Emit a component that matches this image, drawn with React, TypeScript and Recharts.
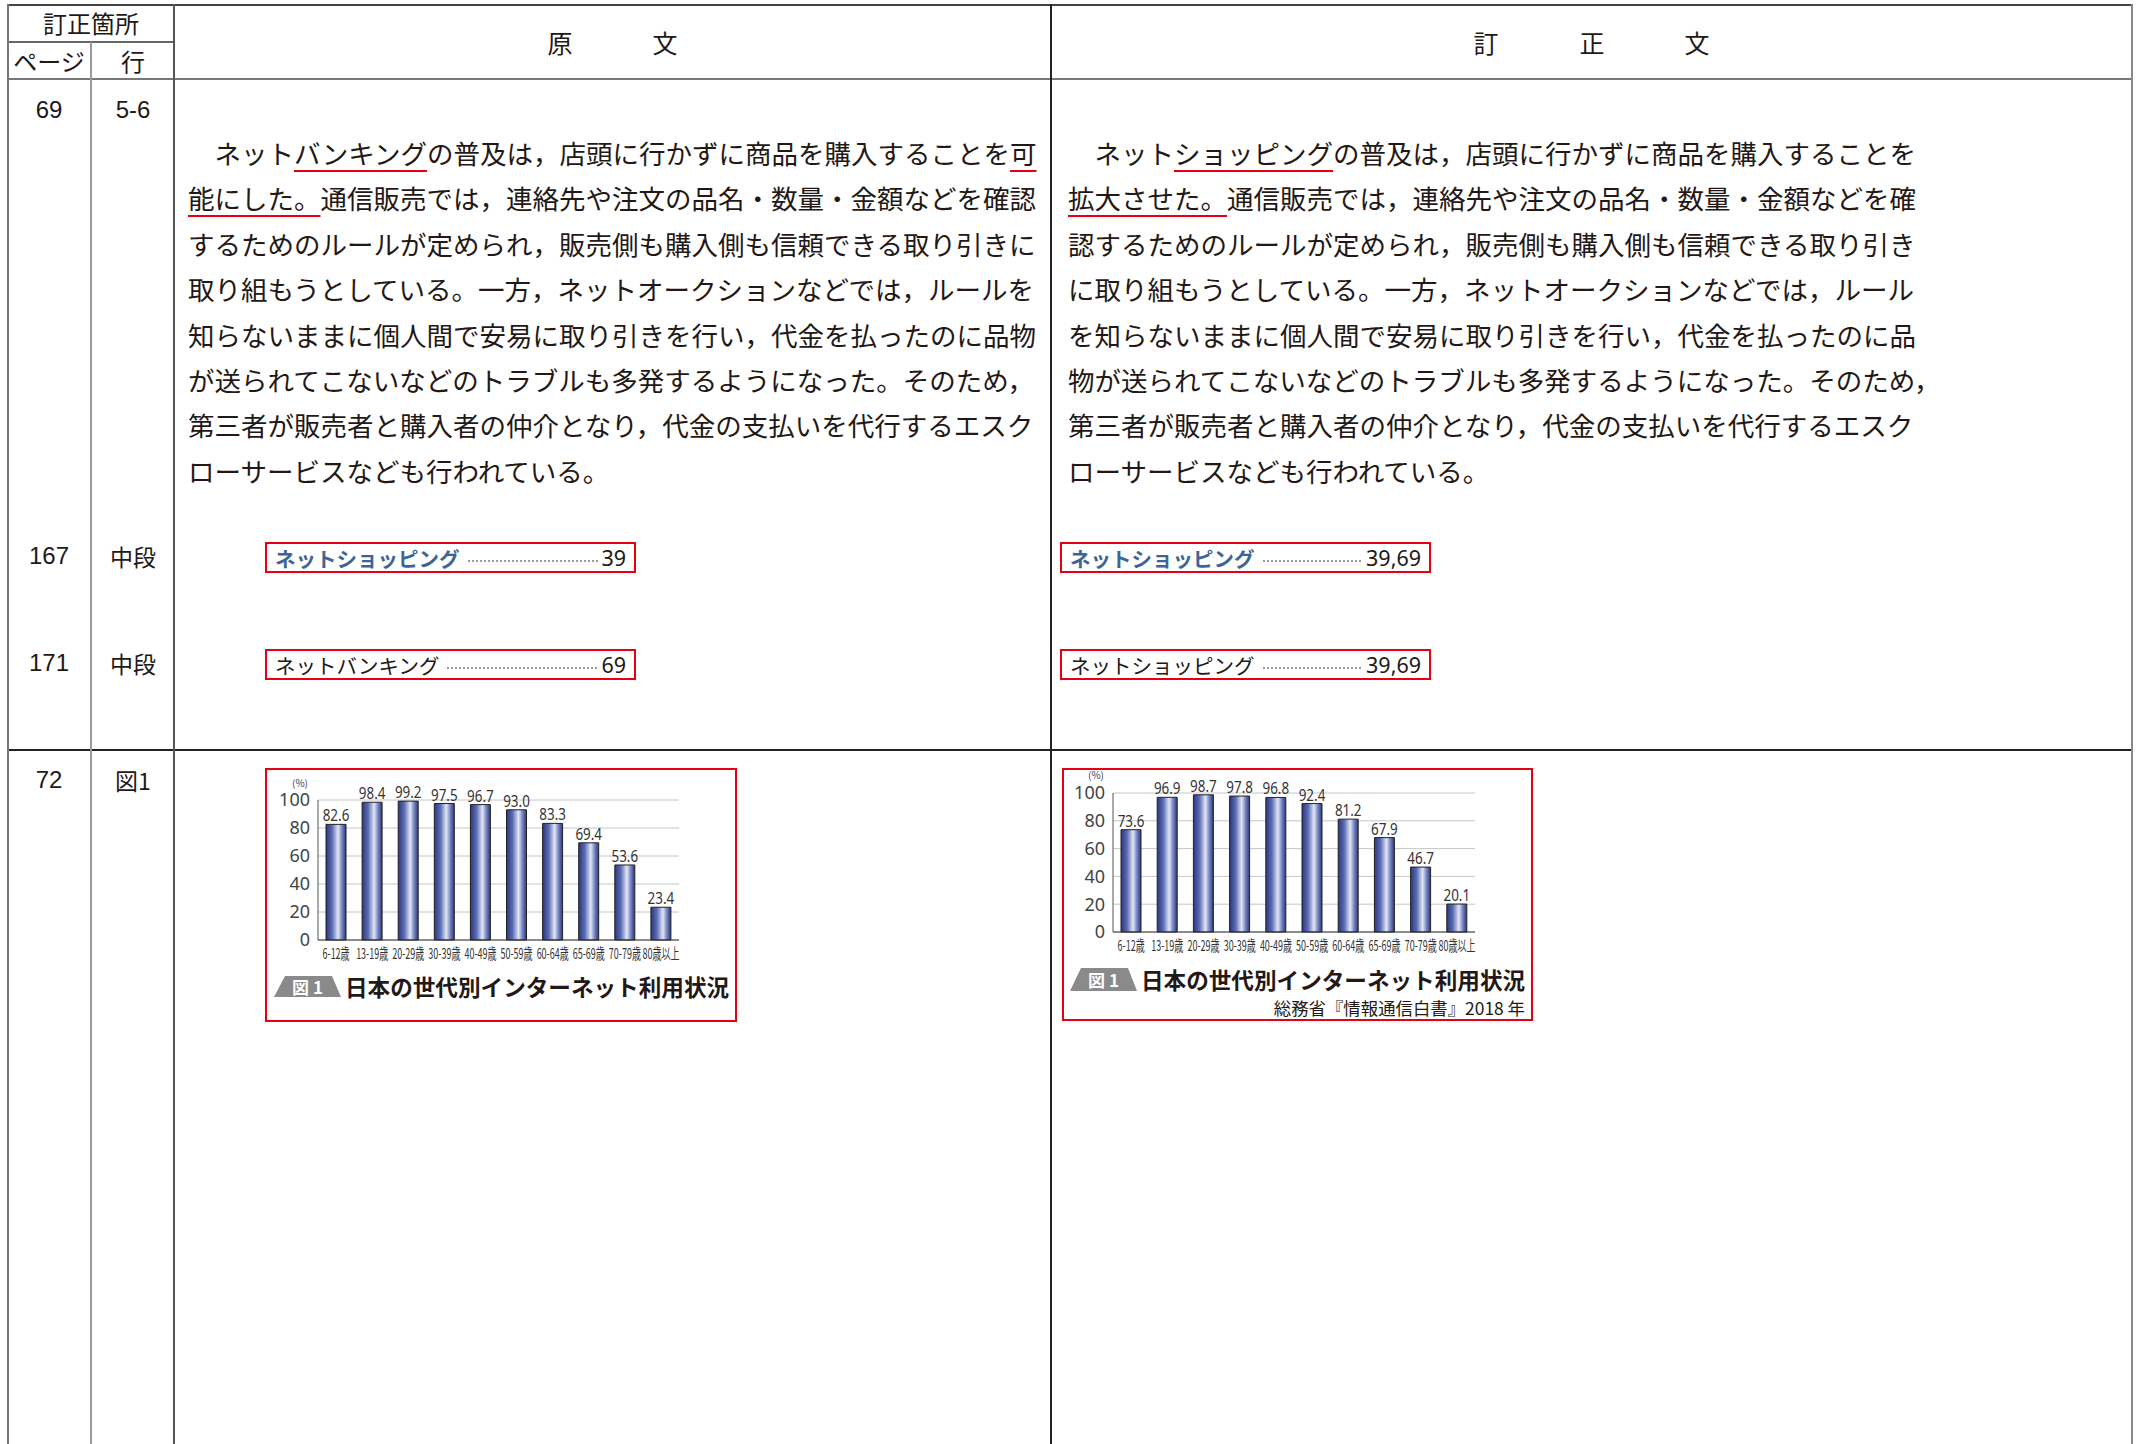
import React from 'react';
import { BarChart, Bar, XAxis, YAxis, CartesianGrid, LabelList } from 'recharts';

// 図1 data (before / after correction)
const ages = ['6-12歳', '13-19歳', '20-29歳', '30-39歳', '40-49歳', '50-59歳', '60-64歳', '65-69歳', '70-79歳', '80歳以上'];
const originalRates = [82.6, 98.4, 99.2, 97.5, 96.7, 93.0, 83.3, 69.4, 53.6, 23.4];
const correctedRates = [73.6, 96.9, 98.7, 97.8, 96.8, 92.4, 81.2, 67.9, 46.7, 20.1];
const yTicks = [0, 20, 40, 60, 80, 100];
const figTitle = '日本の世代別インターネット利用状況';
const figSource = '総務省『情報通信白書』2018 年';

const JP = '"Noto Sans CJK JP", "Noto Sans", sans-serif';
const NUM = '"Liberation Sans", Arial, sans-serif';
const RED = '#e60012';
const INK = '#231815';

type Seg = [string, boolean?];
const originalLines: Seg[][] = [
  [['　ネット'], ['バンキング', true], ['の普及は，店頭に行かずに商品を購入することを'], ['可', true]],
  [['能にした。', true], ['通信販売では，連絡先や注文の品名・数量・金額などを確認']],
  [['するためのルールが定められ，販売側も購入側も信頼できる取り引きに']],
  [['取り組もうとしている。一方，ネットオークションなどでは，ルールを']],
  [['知らないままに個人間で安易に取り引きを行い，代金を払ったのに品物']],
  [['が送られてこないなどのトラブルも多発するようになった。そのため，']],
  [['第三者が販売者と購入者の仲介となり，代金の支払いを代行するエスク']],
  [['ローサービスなども行われている。']],
];
const correctedLines: Seg[][] = [
  [['　ネット'], ['ショッピング', true], ['の普及は，店頭に行かずに商品を購入することを']],
  [['拡大させた。', true], ['通信販売では，連絡先や注文の品名・数量・金額などを確']],
  [['認するためのルールが定められ，販売側も購入側も信頼できる取り引き']],
  [['に取り組もうとしている。一方，ネットオークションなどでは，ルール']],
  [['を知らないままに個人間で安易に取り引きを行い，代金を払ったのに品']],
  [['物が送られてこないなどのトラブルも多発するようになった。そのため，']],
  [['第三者が販売者と購入者の仲介となり，代金の支払いを代行するエスク']],
  [['ローサービスなども行われている。']],
];

function Txt({ x, y, size = 23, font = JP, color = INK, weight = 400, children }: any) {
  return (
    <div style={{ position: 'absolute', left: x, top: y, transform: 'translate(-50%,-50%)', fontSize: size, fontFamily: font, color, fontWeight: weight, lineHeight: 1, whiteSpace: 'nowrap' }}>
      {children}
    </div>
  );
}

function HLine({ x1, x2, y, c = '#555', w = 2 }: any) {
  return <div style={{ position: 'absolute', left: x1, top: y - w / 2, width: x2 - x1, height: w, background: c }} />;
}
function VLine({ x, y1, y2, c = '#555', w = 2 }: any) {
  return <div style={{ position: 'absolute', left: x - w / 2, top: y1, width: w, height: y2 - y1, background: c }} />;
}

function Paragraph({ lines, left }: { lines: Seg[][]; left: number }) {
  return (
    <div style={{ position: 'absolute', left, top: 130, fontFamily: JP, fontSize: 26.5, lineHeight: '45.4px', color: INK, whiteSpace: 'nowrap' }}>
      {lines.map((segs, i) => (
        <div key={i}>
          {segs.map(([t, u], j) => (
            <span key={j} style={u ? { textDecoration: 'underline', textDecorationColor: RED, textDecorationThickness: '2px', textUnderlineOffset: '6px' } : undefined}>{t}</span>
          ))}
        </div>
      ))}
    </div>
  );
}

function IndexBox({ left, top, width, label, pages, blue, leaderW }: any) {
  return (
    <div style={{ position: 'absolute', left, top, width, height: 31, boxSizing: 'border-box', border: `2px solid ${RED}`, display: 'flex', alignItems: 'center', padding: '0 8px', fontFamily: JP, fontSize: 20.5, color: INK, whiteSpace: 'nowrap' }}>
      <span style={{ color: blue ? '#3c6496' : INK, fontWeight: blue ? 700 : 400 }}>{label}</span>
      <span style={{ width: leaderW, marginLeft: 8, marginTop: 6, borderTop: '2px dotted #9a9a9a' }} />
      <span style={{ marginLeft: 'auto', fontFamily: '"Noto Sans", sans-serif', fontSize: 21.5 }}>{pages}</span>
    </div>
  );
}

const AgeTick = (p: any) => (
  <g transform={`translate(${p.x},${p.y})`}>
    <text transform="scale(0.62,1)" textAnchor="middle" dy="0.75em" fontSize={14.5} fill="#333" fontFamily={JP}>{p.payload.value}</text>
  </g>
);

const ValueLabel = (p: any) => (
  <g transform={`translate(${p.x + p.width / 2},${p.y - 3})`}>
    <text transform="scale(0.84,1)" textAnchor="middle" fontSize={16} fill="#333" fontFamily='"Noto Sans", sans-serif'>{Number(p.value).toFixed(1)}</text>
  </g>
);

function AgeChart({ values, id, left, top, width, height, marginTop, axisW }: any) {
  const data = ages.map((a, i) => ({ age: a, rate: values[i] }));
  return (
    <div style={{ position: 'absolute', left, top }}>
      <BarChart width={width} height={height} data={data} margin={{ top: marginTop, right: 58, bottom: 0, left: 0 }}>
        <defs>
          <linearGradient id={id} x1="0" y1="0" x2="1" y2="0">
            <stop offset="0" stopColor="#2a377e" />
            <stop offset="0.3" stopColor="#5a6bb4" />
            <stop offset="0.6" stopColor="#e2e6f5" />
            <stop offset="0.8" stopColor="#7483c2" />
            <stop offset="1" stopColor="#2a377e" />
          </linearGradient>
        </defs>
        <CartesianGrid vertical={false} stroke="#c6c6c6" />
        <XAxis dataKey="age" interval={0} tickLine={false} axisLine={{ stroke: '#333' }} tick={AgeTick} height={28} />
        <YAxis domain={[0, 100]} ticks={yTicks} interval={0} width={axisW} tickLine={false} axisLine={{ stroke: '#555' }}
          tick={{ fontSize: 18, fill: '#444', fontFamily: '"Noto Sans", sans-serif' }} />
        <Bar dataKey="rate" barSize={20} fill={`url(#${id})`} stroke="#222" strokeWidth={1} isAnimationActive={false}>
          <LabelList dataKey="rate" content={ValueLabel} />
        </Bar>
      </BarChart>
    </div>
  );
}

function Badge({ left, top, w, h }: any) {
  return (
    <div style={{ position: 'absolute', left, top, width: w, height: h, background: '#8a8a8a', clipPath: `polygon(${11}px 0, ${w - 9}px 0, ${w}px ${h}px, 0 ${h}px)`, color: '#fff', fontFamily: JP, fontWeight: 700, fontSize: 17, display: 'flex', alignItems: 'center', justifyContent: 'center', lineHeight: 1 }}>
      図 1
    </div>
  );
}

export default function App() {
  const bottom = 1460;
  return (
    <div style={{ position: 'absolute', left: 0, top: 0, width: 2143, height: 1444, overflow: 'hidden', background: '#fff' }}>
      {/* table rules */}
      <HLine x1={7} x2={2133} y={5} c="#444" />
      <HLine x1={7} x2={174} y={42} c="#666" w={1.5} />
      <HLine x1={7} x2={2133} y={79} c="#777" />
      <HLine x1={7} x2={2133} y={750} c="#222" />
      <VLine x={7.5} y1={4} y2={bottom} c="#777" />
      <VLine x={91} y1={42} y2={bottom} c="#999" />
      <VLine x={174} y1={4} y2={bottom} c="#555" />
      <VLine x={1051} y1={4} y2={bottom} c="#222" />
      <VLine x={2132} y1={4} y2={bottom} c="#888" />

      {/* header */}
      <Txt x={91} y={23} size={24}>訂正箇所</Txt>
      <Txt x={49} y={61} size={24}>ページ</Txt>
      <Txt x={133} y={61} size={24}>行</Txt>
      <Txt x={560} y={42} size={25}>原</Txt>
      <Txt x={665} y={42} size={25}>文</Txt>
      <Txt x={1486} y={42} size={25}>訂</Txt>
      <Txt x={1592} y={42} size={25}>正</Txt>
      <Txt x={1697} y={42} size={25}>文</Txt>

      {/* location column */}
      <Txt x={49} y={110} font={NUM} size={24}>69</Txt>
      <Txt x={133} y={110} font={NUM} size={24}>5-6</Txt>
      <Txt x={49} y={556} font={NUM} size={24}>167</Txt>
      <Txt x={133} y={556}>中段</Txt>
      <Txt x={49} y={663} font={NUM} size={24}>171</Txt>
      <Txt x={133} y={663}>中段</Txt>
      <Txt x={49} y={780} font={NUM} size={24}>72</Txt>
      <Txt x={133} y={780}>図1</Txt>

      {/* body text */}
      <Paragraph lines={originalLines} left={188} />
      <Paragraph lines={correctedLines} left={1068} />

      {/* index entries */}
      <IndexBox left={265} top={542} width={371} label="ネットショッピング" pages="39" blue leaderW={130} />
      <IndexBox left={265} top={649} width={371} label="ネットバンキング" pages="69" leaderW={150} />
      <IndexBox left={1060} top={542} width={371} label="ネットショッピング" pages="39,69" blue leaderW={98} />
      <IndexBox left={1060} top={649} width={371} label="ネットショッピング" pages="39,69" leaderW={98} />

      {/* original figure */}
      <div style={{ position: 'absolute', left: 265, top: 768, width: 472, height: 254, boxSizing: 'border-box', border: `2px solid ${RED}` }} />
      <AgeChart values={originalRates} id="gradOrig" left={265} top={768} width={472} height={200} marginTop={32} axisW={53} />
      <Txt x={300} y={783} size={10} color="#444">(%)</Txt>
      <Badge left={274} top={976} w={67} h={21} />
      <div style={{ position: 'absolute', left: 345, top: 975, fontFamily: JP, fontWeight: 700, fontSize: 22.6, lineHeight: '24px', color: INK, whiteSpace: 'nowrap' }}>{figTitle}</div>

      {/* corrected figure */}
      <div style={{ position: 'absolute', left: 1062, top: 768, width: 471, height: 253, boxSizing: 'border-box', border: `2px solid ${RED}` }} />
      <AgeChart values={correctedRates} id="gradCorr" left={1062} top={768} width={471} height={192} marginTop={25} axisW={51} />
      <Txt x={1096} y={775} size={10} color="#444">(%)</Txt>
      <Badge left={1070} top={968} w={67} h={23} />
      <div style={{ position: 'absolute', left: 1141, top: 968, fontFamily: JP, fontWeight: 700, fontSize: 22.6, lineHeight: '24px', color: INK, whiteSpace: 'nowrap' }}>{figTitle}</div>
      <div style={{ position: 'absolute', right: 2143 - 1525, top: 998, fontFamily: JP, fontSize: 17.4, lineHeight: '19px', color: INK, whiteSpace: 'nowrap' }}>{figSource}</div>
    </div>
  );
}
